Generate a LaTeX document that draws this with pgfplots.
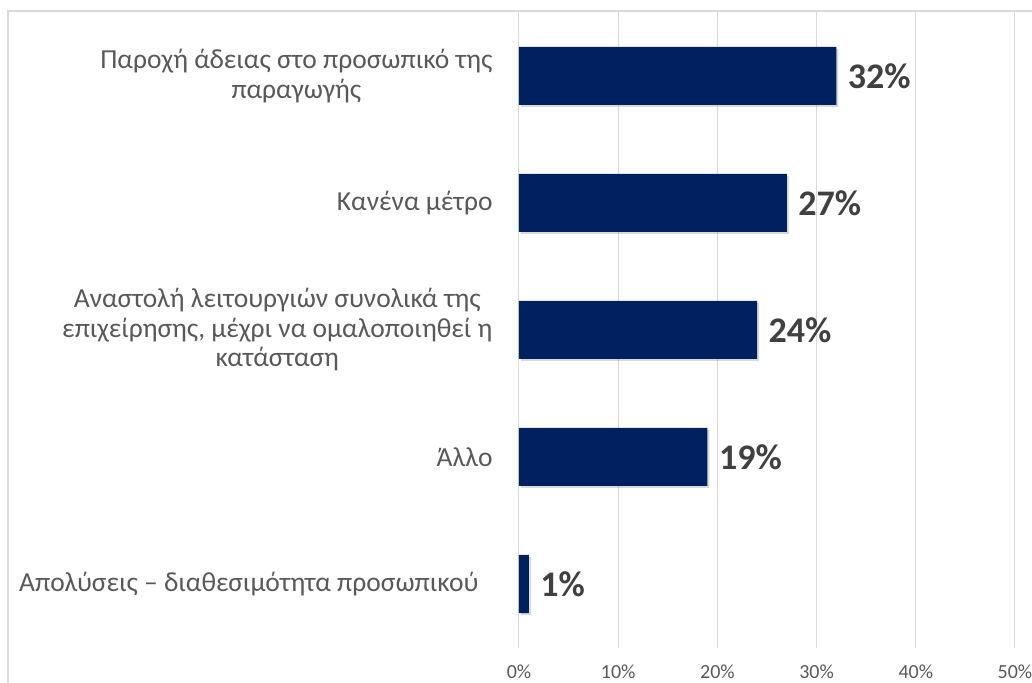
\documentclass[border=0pt]{standalone}
\usepackage{pgfplots}
\pgfplotsset{compat=1.18}
\usepackage{fontspec}
\setmainfont{Carlito}
\usetikzlibrary{shadows}
\definecolor{barblue}{HTML}{002060}
\definecolor{gridgrey}{HTML}{D9D9D9}
\definecolor{txtgrey}{HTML}{595959}
\definecolor{lblgrey}{HTML}{404040}
\begin{document}
\begin{tikzpicture}
\useasboundingbox (-519pt,-34.5pt) rectangle (513pt,647.5pt);
\draw[gridgrey, line width=2pt] (-511pt,-40pt) -- (-511pt,636.5pt) -- (520pt,636.5pt);
\begin{axis}[
  at={(0,0)}, anchor=south west,
  scale only axis, width=496pt, height=635pt,
  xbar, bar width=58pt,
  xmin=0, xmax=50, ymin=-0.5, ymax=4.5,
  xtick={0,10,20,30,40,50},
  xticklabel={\pgfmathprintnumber[assume math mode=true]{\tick}\%},
  xticklabel style={font=\fontsize{20}{24}\selectfont, text=txtgrey, yshift=-14pt},
  ytick={0,1,2,3,4},
  yticklabels={{Απολύσεις – διαθεσιμότητα προσωπικού\hspace*{14pt}},{Άλλο},{Αναστολή λειτουργιών συνολικά της\\επιχείρησης, μέχρι να ομαλοποιηθεί η\\κατάσταση},{Κανένα μέτρο},{Παροχή άδειας στο προσωπικό της\\παραγωγής}},
  yticklabel style={font=\fontsize{27.5}{29.5}\selectfont, text=txtgrey, align=center, xshift=-23pt},
  axis line style={draw=none},
  major tick length=0pt,
  xmajorgrids, major grid style={gridgrey, line width=1pt},
  nodes near coords={\pgfmathprintnumber[assume math mode=true]{\pgfplotspointmeta}\%},
  nodes near coords style={font=\bfseries\fontsize{36}{40}\selectfont, text=lblgrey, anchor=west, xshift=8pt},
  clip=false,
]
\addplot[fill=barblue, draw=none, drop shadow={opacity=0.3, shadow xshift=2pt, shadow yshift=-2pt}] coordinates {(1,0) (19,1) (24,2) (27,3) (32,4)};
\end{axis}
\end{tikzpicture}
\end{document}
